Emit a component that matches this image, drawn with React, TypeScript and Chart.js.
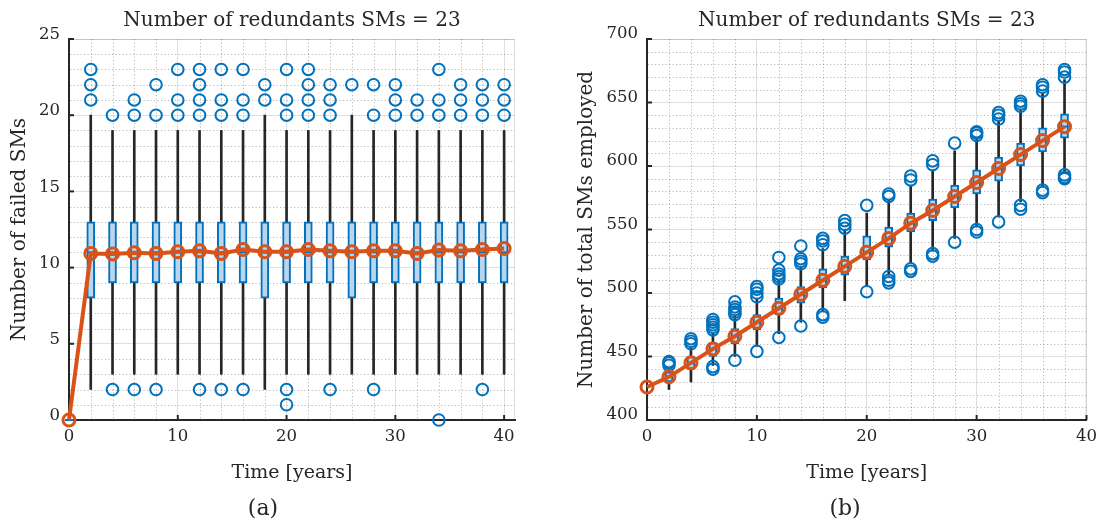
import React, { useEffect, useRef } from "react";
import { Chart, registerables } from "chart.js";

Chart.register(...registerables);

// ---------------- Panel (a): number of failed SMs ----------------
const titleText = "Number of redundants SMs = 23";
const xTitle = "Time [years]";

const yearsA = [0, 2, 4, 6, 8, 10, 12, 14, 16, 18, 20, 22, 24, 26, 28, 30, 32, 34, 36, 38, 40];
const meanA = [0, 10.93, 10.9, 10.97, 10.93, 11.04, 11.1, 10.93, 11.19, 11.04, 11.04, 11.19, 11.1, 11.04, 11.1, 11.1, 10.93, 11.15, 11.1, 11.19, 11.25];
const medianA = [0, 11, 11, 11, 11, 11, 11, 11, 11, 11, 11, 11, 11, 11, 11, 11, 11, 11, 11, 11, 11];
const q1A = [0, 8, 9, 9, 9, 9, 9, 9, 9, 8, 9, 9, 9, 8, 9, 9, 9, 9, 9, 9, 9];
const q3A = [0, 13, 13, 13, 13, 13, 13, 13, 13, 13, 13, 13, 13, 13, 13, 13, 13, 13, 13, 13, 13];
const whiskLoA = [0, 2, 3, 3, 3, 3, 3, 3, 3, 2, 3, 3, 3, 3, 3, 3, 3, 3, 3, 3, 3];
const whiskHiA = [0, 20, 19, 19, 19, 19, 19, 19, 19, 20, 19, 19, 19, 20, 19, 19, 19, 19, 19, 19, 19];
const outliersA = [
  [], [21, 22, 23], [2, 20], [2, 20, 21], [2, 20, 22], [20, 21, 23], [2, 20, 21, 22, 23],
  [2, 20, 21, 23], [2, 20, 21, 23], [21, 22], [1, 2, 20, 21, 23], [20, 21, 22, 23],
  [2, 20, 21, 22], [22], [2, 20, 22], [20, 21, 22], [20, 21], [0, 20, 21, 23],
  [20, 21, 22], [2, 20, 21, 22], [20, 21, 22],
];
const xTicksA = [0, 10, 20, 30, 40];
const yTicksA = [0, 5, 10, 15, 20, 25];
const yTitleA = "Number of failed SMs";

// ---------------- Panel (b): number of total SMs employed ----------------
const meanYearsB = [0, 2, 4, 6, 8, 10, 12, 14, 16, 18, 20, 22, 24, 26, 28, 30, 32, 34, 36, 38];
const meanB = [426, 434, 445, 456, 466, 477, 488, 499, 510, 521, 532, 543, 555, 565, 576, 587, 598, 609, 620, 631];
const boxYearsB = [2, 4, 6, 8, 10, 12, 14, 16, 18, 20, 22, 24, 26, 28, 30, 32, 34, 36, 38];
const medianB = [434, 445, 456, 466, 477, 488, 499, 510, 521, 532, 543, 555, 565, 576, 587, 598, 609, 620, 631];
const q1B = [430, 440, 450, 460, 471, 483, 492, 504, 514, 526, 536, 548, 557, 567, 578, 588, 600, 611, 622];
const q3B = [438, 450, 461, 472, 483, 496, 505, 519, 529, 545, 552, 563, 574, 585, 597, 607, 618, 630, 641];
const whiskLoB = [424, 430, 443, 450, 458, 468, 477, 486, 494, 505, 514, 523, 533, 543, 552, 560, 572, 584, 594];
const whiskHiB = [441, 458, 468, 482, 495, 510, 520, 535, 550, 563, 573, 585, 597, 612, 622, 635, 644, 657, 668];
const outliersB = [
  [443, 445, 446],
  [460, 462, 464],
  [440, 442, 471, 473, 475, 477, 479],
  [447, 483, 485, 487, 489, 493],
  [454, 497, 500, 503, 505],
  [465, 511, 513, 515, 518, 528],
  [474, 523, 525, 527, 537],
  [481, 483, 538, 541, 543],
  [551, 554, 557],
  [501, 569],
  [508, 510, 513, 576, 578],
  [517, 519, 589, 592],
  [529, 531, 601, 604],
  [540, 618],
  [548, 550, 624, 626, 627],
  [556, 637, 640, 642],
  [566, 569, 647, 649, 651],
  [579, 581, 659, 662, 664],
  [590, 591, 593, 670, 674, 676],
];
const xTicksB = [0, 10, 20, 30, 40];
const yTicksB = [400, 450, 500, 550, 600, 650, 700];
const yTitleB = "Number of total SMs employed";

// ---------------- styling ----------------
const FONT = "'DejaVu Serif', serif";
const TXT = "#262626";
const BLUE = "#0072BD";
const BOXFILL = "#b9d6ee";
const ORANGE = "#D95319";
const MAJOR = "rgba(38,38,38,0.15)";
const MINOR = "rgba(38,38,38,0.32)";

type Panel = {
  left: number;
  caption: string;
  yTitle: string;
  xMin: number;
  xMax: number;
  yMin: number;
  yMax: number;
  xTicks: number[];
  yTicks: number[];
  xMinorStep: number;
  yMinorStep: number;
  boxYears: number[];
  q1: number[];
  q3: number[];
  lo: number[];
  hi: number[];
  median: number[];
  outliers: number[][];
  meanYears: number[];
  mean: number[];
  padLeft: number;
  padRight: number;
  yScaleW: number;
  yTitlePadTop: number;
  labelOffset: number;
};

function makeAxesPlugin(p: Panel) {
  return {
    id: "matlabAxes",
    beforeDatasetsDraw(chart: any) {
      const { ctx, chartArea } = chart;
      const { left, right, top, bottom } = chartArea;
      const xs = chart.scales.x;
      const ys = chart.scales.y;
      ctx.save();
      // minor dotted grid
      ctx.strokeStyle = MINOR;
      ctx.lineWidth = 1;
      ctx.setLineDash([1.2, 2.3]);
      for (let v = p.xMin + p.xMinorStep; v < p.xMax; v += p.xMinorStep) {
        if (p.xTicks.includes(v)) continue;
        const px = Math.round(xs.getPixelForValue(v)) + 0.5;
        ctx.beginPath();
        ctx.moveTo(px, top);
        ctx.lineTo(px, bottom - 1);
        ctx.stroke();
      }
      for (let v = p.yMin + p.yMinorStep; v < p.yMax; v += p.yMinorStep) {
        if (p.yTicks.includes(v)) continue;
        const py = Math.round(ys.getPixelForValue(v)) + 0.5;
        ctx.beginPath();
        ctx.moveTo(left + 1, py);
        ctx.lineTo(right, py);
        ctx.stroke();
      }
      ctx.setLineDash([]);
      // light box on top / right
      ctx.strokeStyle = MAJOR;
      ctx.beginPath();
      ctx.moveTo(left, top + 0.5);
      ctx.lineTo(right - 0.5, top + 0.5);
      ctx.lineTo(right - 0.5, bottom);
      ctx.stroke();
      // inward tick marks
      ctx.strokeStyle = TXT;
      ctx.lineWidth = 2;
      for (const v of p.xTicks) {
        const px = xs.getPixelForValue(v);
        ctx.beginPath();
        ctx.moveTo(px, bottom);
        ctx.lineTo(px, bottom - 5);
        ctx.stroke();
      }
      for (const v of p.yTicks) {
        const py = ys.getPixelForValue(v);
        ctx.beginPath();
        ctx.moveTo(left, py);
        ctx.lineTo(left + 5, py);
        ctx.stroke();
      }
      ctx.restore();
    },
  };
}

function buildConfig(p: Panel): any {
  const boxData = p.boxYears.map((x, i) => ({ x, y: [p.q1[i], p.q3[i]] }));
  const whiskData = p.boxYears.map((x, i) => ({ x, y: [p.lo[i], p.hi[i]] }));
  const medData = p.boxYears.map((x, i) => ({ x, y: p.median[i] }));
  const outData = p.boxYears.flatMap((x, i) => p.outliers[i].map((v) => ({ x, y: v })));
  const meanData = p.meanYears.map((x, i) => ({ x, y: p.mean[i] }));

  return {
    type: "bar",
    data: {
      datasets: [
        {
          type: "line",
          label: "mean",
          data: meanData,
          borderColor: ORANGE,
          borderWidth: 4,
          pointRadius: 6,
          pointBorderWidth: 3,
          pointBorderColor: ORANGE,
          pointBackgroundColor: "rgba(0,0,0,0)",
          tension: 0,
          clip: false,
          order: 0,
        },
        {
          type: "line",
          label: "median",
          data: medData,
          showLine: false,
          pointStyle: "line",
          pointRadius: 4,
          pointBorderWidth: 2,
          pointBorderColor: BLUE,
          clip: false,
          order: 1,
        },
        {
          type: "line",
          label: "outliers",
          data: outData,
          showLine: false,
          pointStyle: "circle",
          pointRadius: 5.8,
          pointBorderWidth: 2,
          pointBorderColor: BLUE,
          pointBackgroundColor: "rgba(0,0,0,0)",
          clip: false,
          order: 2,
        },
        {
          type: "bar",
          label: "box",
          data: boxData,
          backgroundColor: BOXFILL,
          borderColor: BLUE,
          borderWidth: 2,
          borderSkipped: false,
          barThickness: 8,
          grouped: false,
          order: 3,
        },
        {
          type: "bar",
          label: "whisker",
          data: whiskData,
          backgroundColor: TXT,
          borderWidth: 0,
          barThickness: 2,
          grouped: false,
          order: 4,
        },
      ],
    },
    options: {
      responsive: false,
      animation: false,
      devicePixelRatio: 1,
      layout: { padding: { left: p.padLeft, right: p.padRight, top: 0, bottom: 0 } },
      plugins: {
        legend: { display: false },
        tooltip: { enabled: false },
        title: {
          display: true,
          text: titleText,
          fullSize: false,
          color: TXT,
          font: { family: FONT, size: 20, weight: "normal" },
          padding: { top: 8.4, bottom: 6.6 },
        },
        subtitle: {
          display: true,
          position: "bottom",
          text: p.caption,
          color: TXT,
          font: { family: FONT, size: 22, weight: "normal" },
          padding: { top: 0, bottom: -3.2 },
        },
      },
      scales: {
        x: {
          type: "linear",
          min: p.xMin,
          max: p.xMax,
          offset: false,
          afterBuildTicks: (s: any) => {
            s.ticks = p.xTicks.map((v) => ({ value: v }));
          },
          afterFit: (s: any) => {
            s.height = 75.8;
          },
          grid: { color: MAJOR, lineWidth: 1, drawTicks: false, offset: false },
          border: { display: true, color: TXT, width: 2 },
          ticks: {
            color: TXT,
            font: { family: FONT, size: 16.5 },
            padding: 7,
            maxRotation: 0,
            autoSkip: false,
          },
          title: {
            display: true,
            text: xTitle,
            color: TXT,
            font: { family: FONT, size: 19 },
            padding: { top: 0, bottom: 11 },
          },
        },
        y: {
          type: "linear",
          min: p.yMin,
          max: p.yMax,
          afterBuildTicks: (s: any) => {
            s.ticks = p.yTicks.map((v) => ({ value: v }));
          },
          afterFit: (s: any) => {
            s.width = p.yScaleW;
          },
          grid: { color: MAJOR, lineWidth: 1, drawTicks: false },
          border: { display: true, color: TXT, width: 2 },
          ticks: {
            color: TXT,
            font: { family: FONT, size: 16.5 },
            padding: 9,
            labelOffset: p.labelOffset,
            autoSkip: false,
          },
          title: {
            display: true,
            text: p.yTitle,
            color: TXT,
            font: { family: FONT, size: 20 },
            padding: { top: p.yTitlePadTop, bottom: 0 },
          },
        },
      },
    },
    plugins: [makeAxesPlugin(p)],
  };
}

function BoxPanel({ p }: { p: Panel }) {
  const ref = useRef<HTMLCanvasElement | null>(null);
  useEffect(() => {
    if (!ref.current) return;
    const chart = new Chart(ref.current, buildConfig(p));
    return () => chart.destroy();
  }, [p]);
  return (
    <canvas
      ref={ref}
      width={552}
      height={519}
      style={{ position: "absolute", left: p.left, top: 0, width: 552, height: 519 }}
    />
  );
}

const panelA: Panel = {
  left: 0,
  caption: "(a)",
  yTitle: yTitleA,
  xMin: 0,
  xMax: 41,
  yMin: 0,
  yMax: 25,
  xTicks: xTicksA,
  yTicks: yTicksA,
  xMinorStep: 2,
  yMinorStep: 1,
  boxYears: yearsA,
  q1: q1A,
  q3: q3A,
  lo: whiskLoA,
  hi: whiskHiA,
  median: medianA,
  outliers: outliersA,
  meanYears: yearsA,
  mean: meanA,
  padLeft: 11,
  padRight: 37,
  yScaleW: 58,
  yTitlePadTop: -3.2,
  labelOffset: -4,
};

const panelB: Panel = {
  left: 552,
  caption: "(b)",
  yTitle: yTitleB,
  xMin: 0,
  xMax: 40,
  yMin: 400,
  yMax: 700,
  xTicks: xTicksB,
  yTicks: yTicksB,
  xMinorStep: 2,
  yMinorStep: 10,
  boxYears: boxYearsB,
  q1: q1B,
  q3: q3B,
  lo: whiskLoB,
  hi: whiskHiB,
  median: medianB,
  outliers: outliersB,
  meanYears: meanYearsB,
  mean: meanB,
  padLeft: 45,
  padRight: 11,
  yScaleW: 50,
  yTitlePadTop: -22.6,
  labelOffset: -5,
};

export default function App() {
  return (
    <div
      style={{
        position: "fixed",
        left: 0,
        top: 0,
        width: 1104,
        height: 519,
        background: "#ffffff",
        overflow: "hidden",
      }}
    >
      <BoxPanel p={panelA} />
      <BoxPanel p={panelB} />
    </div>
  );
}
